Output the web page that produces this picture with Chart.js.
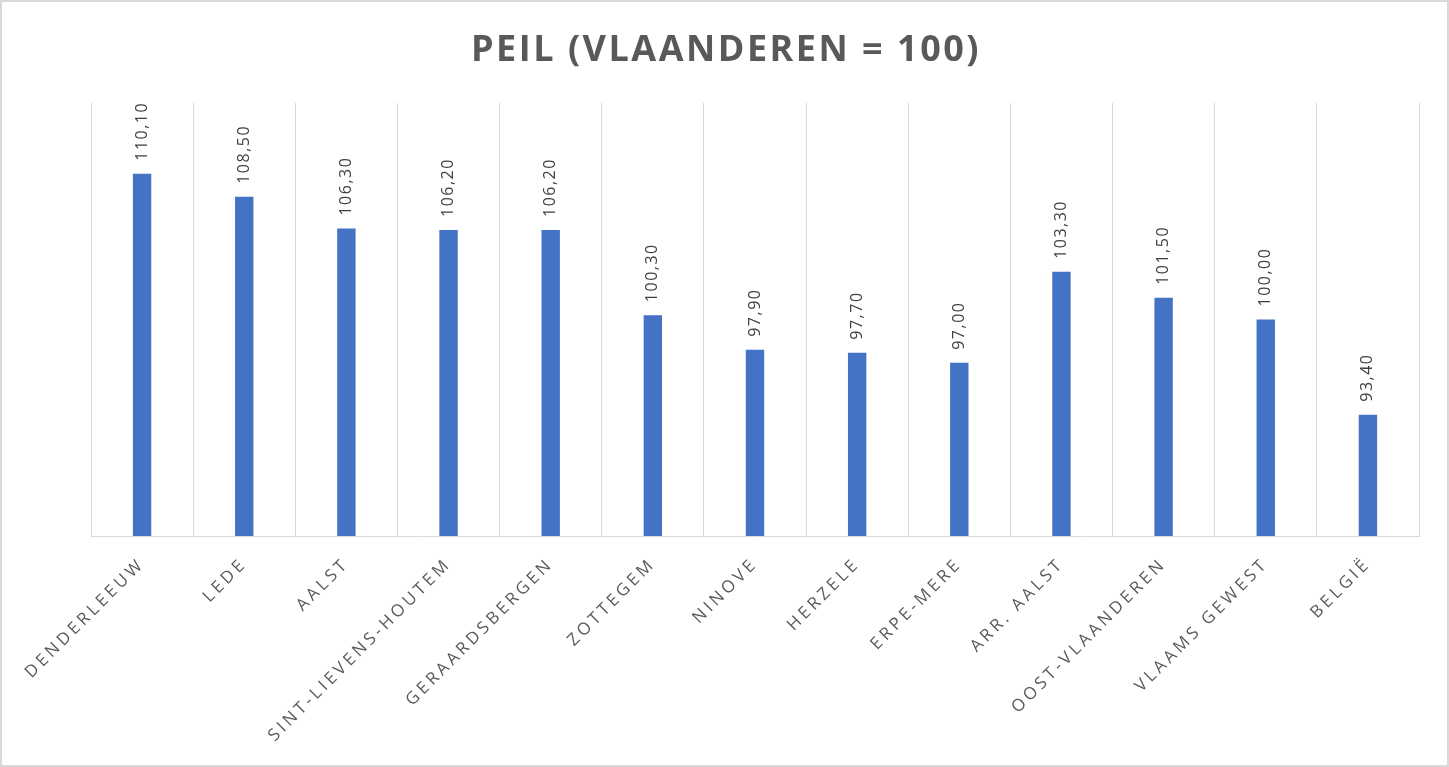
<!DOCTYPE html>
<html>
<head>
<meta charset="utf-8">
<script src="https://cdn.jsdelivr.net/npm/chart.js@4.4.1/dist/chart.umd.min.js"></script>
<style>
  html, body { margin: 0; padding: 0; background: #ffffff; }
  #wrap { width: 1449px; height: 767px; position: relative; }
  canvas { display: block; }
</style>
</head>
<body>
<div id="wrap"><canvas id="c" width="1449" height="767"></canvas></div>
<script>
const titleText = "PEIL (VLAANDEREN = 100)";
const categories = ["DENDERLEEUW", "LEDE", "AALST", "SINT-LIEVENS-HOUTEM", "GERAARDSBERGEN", "ZOTTEGEM", "NINOVE", "HERZELE", "ERPE-MERE", "ARR. AALST", "OOST-VLAANDEREN", "VLAAMS GEWEST", "BELGIË"];
const peilValues = [110.1, 108.5, 106.3, 106.2, 106.2, 100.3, 97.9, 97.7, 97.0, 103.3, 101.5, 100.0, 93.4];
const yMin = 85;
const yMax = 115;

const FONT = "'Open Sans', 'Noto Sans', sans-serif";

const decorPlugin = {
  id: 'decor',
  beforeDraw(chart) {
    const ctx = chart.ctx;
    ctx.save();
    ctx.fillStyle = '#ffffff';
    ctx.fillRect(0, 0, chart.width, chart.height);
    ctx.strokeStyle = '#d9d9d9';
    ctx.lineWidth = 2;
    ctx.strokeRect(1, 1, chart.width - 2, chart.height - 2);
    ctx.restore();
    ctx.letterSpacing = '3.5px';
  },
  afterDatasetsDraw(chart) {
    const ctx = chart.ctx;
    const meta = chart.getDatasetMeta(0);
    ctx.save();
    ctx.letterSpacing = '1.5px';
    ctx.font = "16px " + FONT;
    ctx.fillStyle = '#404040';
    ctx.textAlign = 'left';
    ctx.textBaseline = 'middle';
    meta.data.forEach((bar, i) => {
      const txt = peilValues[i].toFixed(2).replace('.', ',');
      ctx.save();
      ctx.translate(bar.x, bar.y - 13);
      ctx.rotate(-Math.PI / 2);
      ctx.fillText(txt, 0, 0);
      ctx.restore();
    });
    ctx.restore();
  },
  afterDraw(chart) {
    const ctx = chart.ctx;
    ctx.save();
    ctx.letterSpacing = '2.5px';
    ctx.font = "bold 36px " + FONT;
    ctx.fillStyle = '#595959';
    ctx.textAlign = 'center';
    ctx.textBaseline = 'alphabetic';
    ctx.fillText(titleText, chart.width / 2 + 1.5, 61);
    ctx.restore();
    ctx.letterSpacing = '0px';
  }
};

new Chart(document.getElementById('c'), {
  type: 'bar',
  data: {
    labels: categories,
    datasets: [{
      data: peilValues,
      backgroundColor: '#4472C4',
      borderWidth: 0,
      categoryPercentage: 1.0,
      barPercentage: 0.18
    }]
  },
  options: {
    responsive: false,
    animation: false,
    devicePixelRatio: 1,
    layout: { padding: { left: 91, right: 30, top: 103, bottom: 0 } },
    plugins: {
      legend: { display: false },
      title: { display: false },
      tooltip: { enabled: false }
    },
    scales: {
      x: {
        offset: true,
        grid: { display: true, offset: true, color: '#d9d9d9', lineWidth: 1, drawTicks: false },
        border: { display: true, color: '#d9d9d9', width: 1 },
        ticks: {
          autoSkip: false,
          maxRotation: 45,
          minRotation: 45,
          padding: 18,
          color: '#595959',
          font: { family: FONT, size: 17 }
        },
        afterFit(scale) { scale.height = 231; }
      },
      y: {
        display: false,
        min: yMin,
        max: yMax,
        grid: { display: false }
      }
    }
  },
  plugins: [decorPlugin]
});
</script>
</body>
</html>
